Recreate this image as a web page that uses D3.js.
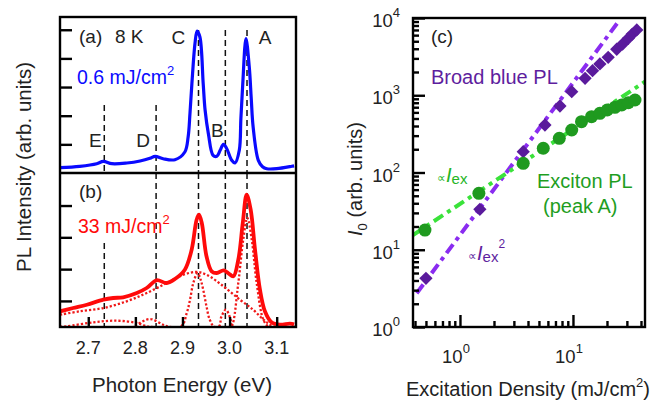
<!DOCTYPE html>
<html>
<head>
<meta charset="utf-8">
<script src="https://cdn.jsdelivr.net/npm/d3@7"></script>
<style>
  body { margin: 0; background: #fff; }
  svg { display: block; font-family: "Liberation Sans", Arial, sans-serif; }
</style>
</head>
<body>
<svg id="chart" width="668" height="403"></svg>
<script>
// ── data: PL spectra (photon energy eV, intensity arb. units) ──────────────────
const ENERGY_TICKS = [2.7, 2.8, 2.9, 3.0, 3.1];
const A_TICKS = [1, 2, 3, 4, 5];
const B_TICKS = [0.82, 1.82, 2.82, 3.82];

const PEAK_NAMES = ['E', 'D', 'C', 'B', 'A'];
const PEAK_EV    = [2.734, 2.844, 2.934, 2.991, 3.037];
const PEAK_TOP_A = [2.37, 2.37, 4.99, 4.99, 4.99];   // dashed line tops in (a)
const PEAK_TOP_B = [2.64, 4.84, 4.84, 4.84, 4.84];   // dashed line tops in (b)

// (a) 0.6 mJ/cm2
const SPEC_LOW = [
  [2.640, 0.185], [2.682, 0.234], [2.718, 0.325], [2.732, 0.408], [2.750, 0.325],
  [2.782, 0.349], [2.810, 0.419], [2.831, 0.513], [2.842, 0.583], [2.859, 0.499],
  [2.884, 0.464], [2.905, 0.733], [2.912, 1.257], [2.916, 2.10], [2.920, 3.117],
  [2.9265, 4.513], [2.931, 4.956], [2.937, 4.747], [2.944, 3.117], [2.948, 2.20],
  [2.955, 1.372], [2.965, 0.618], [2.973, 0.583], [2.980, 0.792], [2.987, 1.002],
  [2.994, 0.848], [3.0045, 0.443], [3.0115, 0.349], [3.0206, 0.792], [3.024, 1.90],
  [3.028, 3.117], [3.0348, 4.688], [3.0418, 3.70], [3.046, 2.60], [3.050, 1.606],
  [3.061, 0.443], [3.070, 0.22], [3.079, 0.150], [3.100, 0.150], [3.132, 0.234],
  [3.137, 0.25]
];

// (b) 33 mJ/cm2, total and fitted components
const SPEC_HIGH = [
  [2.640, 0.494], [2.668, 0.597], [2.697, 0.701], [2.732, 0.858], [2.753, 0.912],
  [2.774, 0.934], [2.803, 1.069], [2.824, 1.226], [2.845, 1.469], [2.8665, 1.384],
  [2.884, 1.509], [2.905, 1.802], [2.9195, 2.431], [2.930, 3.374], [2.935, 3.531],
  [2.941, 3.270], [2.951, 2.223], [2.962, 1.752], [2.973, 1.698], [2.987, 1.783],
  [2.997, 1.698], [3.008, 1.594], [3.0185, 2.116], [3.028, 3.270], [3.0363, 4.160],
  [3.0448, 3.689], [3.054, 2.431], [3.0645, 1.173], [3.075, 0.494], [3.089, 0.148],
  [3.107, 0.072], [3.128, 0.104], [3.137, 0.08]
];
const FIT_BROAD = [
  [2.640, 0.387], [2.682, 0.494], [2.732, 0.597], [2.7815, 0.808], [2.824, 1.069],
  [2.8665, 1.384], [2.902, 1.645], [2.930, 1.730], [2.951, 1.645], [2.987, 1.280],
  [3.022, 0.858], [3.050, 0.544], [3.072, 0.230], [3.093, 0.022], [3.141, 0.0]
];
const FIT_E = [
  [2.640, 0.0], [2.654, 0.02], [2.711, 0.148], [2.760, 0.198], [2.803, 0.126],
  [2.824, 0.02], [2.835, 0.0], [3.141, 0.0]
];
const FIT_D = [
  [2.640, 0.0], [2.795, 0.0], [2.803, 0.072], [2.831, 0.25], [2.859, 0.072],
  [2.873, 0.0], [3.141, 0.0]
];
const FIT_C = [
  [2.640, 0.0], [2.895, 0.0], [2.909, 0.44], [2.916, 0.858], [2.923, 1.384],
  [2.932, 1.698], [2.9386, 1.487], [2.944, 1.173], [2.951, 0.65], [2.958, 0.230],
  [2.969, 0.0], [3.141, 0.0]
];
const FIT_B = [
  [2.640, 0.0], [2.976, 0.0], [2.982, 0.3], [2.992, 0.544], [3.001, 0.3],
  [3.008, 0.0], [3.141, 0.0]
];
const FIT_A = [
  [2.640, 0.0], [3.0, 0.0], [3.0045, 0.02], [3.0185, 1.384], [3.029, 2.75],
  [3.0376, 3.43], [3.047, 2.75], [3.0575, 1.384], [3.0716, 0.230], [3.082, 0.02],
  [3.090, 0.0], [3.141, 0.0]
];

// (c) integrated intensity vs excitation density
const DENS_BROAD = [0.5, 1.5, 3.63, 5.65, 7.67, 9.75, 12.8, 14.9, 17.3, 20.5, 24.4, 27.5, 30.9, 33.5, 36.7];
const I_BROAD    = [4.27, 33.4, 186, 412, 726, 1112, 1657, 2080, 2540, 3100, 3940, 4600, 5460, 6200, 7000];
const DENS_EXC   = [0.49, 1.47, 3.63, 5.46, 7.57, 9.75, 11.9, 14.6, 17.3, 20.1, 23.5, 27.0, 30.9, 35.4];
const I_EXC      = [18.0, 53.8, 131.6, 206, 277, 355, 455, 528, 584, 644, 698, 748, 801, 868];
const FIT_SQ  = [[0.414, 2.73], [26, 9500]];   // ∝ Iex^2
const FIT_LIN = [[0.384, 15.5], [43.4, 1500]]; // ∝ Iex
const Y_DECADES = [0, 1, 2, 3, 4];
const X_DECADES = [0, 1];

// ── setup ──────────────────────────────────────────────────────────────────────
const svg = d3.select('#chart');
const INK = '#222';
const AXW = 2.4;

const xE = d3.scaleLinear().domain([2.640, 3.141]).range([60, 296]);
const yA = d3.scaleLinear().domain([0, 5.445]).range([173, 17]);
const yB = d3.scaleLinear().domain([0, 4.843]).range([327, 173]);

const xC = d3.scaleLog().domain([0.384, 43.4]).range([413, 645]);
const yC = d3.scaleLog().domain([1, 10000]).range([327, 18]);

const defs = svg.append('defs');
function clip(id, x0, y0, x1, y1) {
  defs.append('clipPath').attr('id', id)
    .append('rect').attr('x', x0).attr('y', y0).attr('width', x1 - x0).attr('height', y1 - y0);
}
clip('clipA', 60, 17, 296, 173);
clip('clipB', 60, 173, 296, 327);
clip('clipC', 413, 18, 645, 327);

// ── panels (a) & (b) ──────────────────────────────────────────────────────────
function specLine(y) {
  return d3.line().x(d => xE(d[0])).y(d => y(d[1])).curve(d3.curveCatmullRom.alpha(0.5));
}

const gA = svg.append('g').attr('clip-path', 'url(#clipA)');
const gB = svg.append('g').attr('clip-path', 'url(#clipB)');

// dashed peak markers
PEAK_EV.forEach((e, i) => {
  gA.append('line')
    .attr('x1', xE(e)).attr('x2', xE(e))
    .attr('y1', yA(PEAK_TOP_A[i])).attr('y2', yA(0))
    .attr('stroke', '#111').attr('stroke-width', 1.5).attr('stroke-dasharray', '6 4');
  gB.append('line')
    .attr('x1', xE(e)).attr('x2', xE(e))
    .attr('y1', yB(PEAK_TOP_B[i])).attr('y2', yB(0))
    .attr('stroke', '#111').attr('stroke-width', 1.5).attr('stroke-dasharray', '6 4');
});

// fitted components (dotted)
[FIT_BROAD, FIT_E, FIT_D, FIT_C, FIT_B, FIT_A].forEach(comp => {
  gB.append('path')
    .attr('d', specLine(yB)(comp))
    .attr('fill', 'none')
    .attr('stroke', '#f01818')
    .attr('stroke-width', 2.3)
    .attr('stroke-dasharray', '2.2 2');
});

gA.append('path')
  .attr('d', specLine(yA)(SPEC_LOW))
  .attr('fill', 'none').attr('stroke', '#0a0aff').attr('stroke-width', 3.2)
  .attr('stroke-linejoin', 'round');

gB.append('path')
  .attr('d', specLine(yB)(SPEC_HIGH))
  .attr('fill', 'none').attr('stroke', '#ff0a0a').attr('stroke-width', 3.8)
  .attr('stroke-linejoin', 'round');

// axes (inward ticks)
function styleAxis(g) {
  g.select('.domain').remove();
  g.selectAll('.tick line').attr('stroke', '#000').attr('stroke-width', AXW);
}
svg.append('g').attr('transform', 'translate(60,0)')
  .call(d3.axisLeft(yA).tickValues(A_TICKS).tickSize(-12).tickFormat(''))
  .call(styleAxis);
svg.append('g').attr('transform', 'translate(60,0)')
  .call(d3.axisLeft(yB).tickValues(B_TICKS).tickSize(-12).tickFormat(''))
  .call(styleAxis);
svg.append('g').attr('transform', 'translate(0,327)')
  .call(d3.axisBottom(xE).tickValues(ENERGY_TICKS).tickSize(-10).tickFormat(''))
  .call(styleAxis);

svg.append('rect').attr('x', 60).attr('y', 17).attr('width', 236).attr('height', 310)
  .attr('fill', 'none').attr('stroke', '#000').attr('stroke-width', AXW);
svg.append('line').attr('x1', 60).attr('x2', 296).attr('y1', 173).attr('y2', 173)
  .attr('stroke', '#000').attr('stroke-width', AXW);

// tick labels
svg.append('g').selectAll('text').data(ENERGY_TICKS).join('text')
  .attr('x', d => xE(d)).attr('y', 354)
  .attr('text-anchor', 'middle').attr('font-size', 18).attr('fill', INK)
  .text(d => d3.format('.1f')(d));

svg.append('text').attr('x', 182).attr('y', 392)
  .attr('text-anchor', 'middle').attr('font-size', 20.5).attr('fill', INK)
  .text('Photon Energy (eV)');
svg.append('text').attr('transform', 'translate(31,167) rotate(-90)')
  .attr('text-anchor', 'middle').attr('font-size', 20.5).attr('fill', INK)
  .text('PL Intensity (arb. units)');

// panel annotations
function label(x, y, txt, size, color, anchor) {
  return svg.append('text').attr('x', x).attr('y', y)
    .attr('font-size', size).attr('fill', color || INK)
    .attr('text-anchor', anchor || 'start').text(txt);
}
label(79, 43, '(a)', 19);
label(115, 43, '8 K', 19);
label(79, 198, '(b)', 19);

const PEAK_LABEL_DX = [-9, -13, -20, -8, 18];
const PEAK_LABEL_Y  = [147, 147, 44, 137, 44];
PEAK_NAMES.forEach((n, i) => {
  label(xE(PEAK_EV[i]) + PEAK_LABEL_DX[i], PEAK_LABEL_Y[i], n, 19, INK, 'middle');
});

function fluence(x, y, txt, color) {
  const t = label(x, y, txt, 19.5, color);
  t.append('tspan').attr('font-size', 13).attr('dy', -9).text('2');
}
fluence(77, 84, '0.6 mJ/cm', '#0a0aff');
fluence(78, 233, '33 mJ/cm', '#ff0a0a');

// ── panel (c) ─────────────────────────────────────────────────────────────────
const gC = svg.append('g').attr('clip-path', 'url(#clipC)');
const fitLine = d3.line().x(d => xC(d[0])).y(d => yC(d[1]));

gC.append('path').attr('d', fitLine(FIT_SQ))
  .attr('fill', 'none').attr('stroke', '#8a2cf0').attr('stroke-width', 4)
  .attr('stroke-dasharray', '11 5 4 5');
gC.append('path').attr('d', fitLine(FIT_LIN))
  .attr('fill', 'none').attr('stroke', '#3ae23a').attr('stroke-width', 4)
  .attr('stroke-dasharray', '11 5 4 5');

gC.append('g').selectAll('path').data(DENS_BROAD).join('path')
  .attr('d', d3.symbol(d3.symbolSquare, 88))
  .attr('transform', (d, i) => `translate(${xC(d)},${yC(I_BROAD[i])}) rotate(45)`)
  .attr('fill', '#5a1a9c');

gC.append('g').selectAll('circle').data(DENS_EXC).join('circle')
  .attr('cx', d => xC(d)).attr('cy', (d, i) => yC(I_EXC[i]))
  .attr('r', 6.5).attr('fill', '#1f9a1f');

// log ticks
const yMinor = yC.ticks().filter(v => !Y_DECADES.some(p => Math.abs(v - Math.pow(10, p)) < 1e-9));
const xMinor = xC.ticks().filter(v => !X_DECADES.some(p => Math.abs(v - Math.pow(10, p)) < 1e-9));

svg.append('g').attr('transform', 'translate(413,0)')
  .call(d3.axisLeft(yC).tickValues(Y_DECADES.map(p => Math.pow(10, p))).tickSize(-12).tickFormat(''))
  .call(styleAxis);
svg.append('g').attr('transform', 'translate(413,0)')
  .call(d3.axisLeft(yC).tickValues(yMinor).tickSize(-6).tickFormat(''))
  .call(styleAxis);
svg.append('g').attr('transform', 'translate(0,327)')
  .call(d3.axisBottom(xC).tickValues(X_DECADES.map(p => Math.pow(10, p))).tickSize(-12).tickFormat(''))
  .call(styleAxis);
svg.append('g').attr('transform', 'translate(0,327)')
  .call(d3.axisBottom(xC).tickValues(xMinor).tickSize(-6).tickFormat(''))
  .call(styleAxis);

svg.append('rect').attr('x', 413).attr('y', 18).attr('width', 232).attr('height', 309)
  .attr('fill', 'none').attr('stroke', '#000').attr('stroke-width', AXW);

// decade labels
Y_DECADES.forEach(p => {
  const t = svg.append('text').attr('x', 400).attr('y', yC(Math.pow(10, p)) + 9)
    .attr('text-anchor', 'end').attr('font-size', 18.5).attr('fill', INK).text('10');
  t.append('tspan').attr('font-size', 13).attr('dy', -10).text(p);
});
X_DECADES.forEach(p => {
  const t = svg.append('text').attr('x', xC(Math.pow(10, p)) - 4).attr('y', 363)
    .attr('text-anchor', 'middle').attr('font-size', 18.5).attr('fill', INK).text('10');
  t.append('tspan').attr('font-size', 13).attr('dy', -10).text(p);
});

// axis titles
const xt = svg.append('text').attr('x', 528).attr('y', 396)
  .attr('text-anchor', 'middle').attr('font-size', 20).attr('fill', INK)
  .text('Excitation Density (mJ/cm');
xt.append('tspan').attr('font-size', 13).attr('dy', -9).text('2');
xt.append('tspan').attr('dy', 9).text(')');

const yt = svg.append('text').attr('transform', 'translate(362,179) rotate(-90)')
  .attr('text-anchor', 'middle').attr('font-size', 20).attr('fill', INK);
yt.append('tspan').attr('font-style', 'italic').text('I');
yt.append('tspan').attr('font-size', 13).attr('dy', 5).text('0');
yt.append('tspan').attr('dy', -5).text(' (arb. units)');

// annotations
label(431, 43, '(c)', 19);
label(431, 84, 'Broad blue PL', 20, '#5e1e9e');
label(537, 188, 'Exciton PL', 20, '#1f9e1f');
label(543, 213, '(peak A)', 20, '#1f9e1f');

const pLin = svg.append('text').attr('x', 437).attr('y', 182).attr('fill', '#25b525');
pLin.append('tspan').attr('font-size', 12).text('∝');
pLin.append('tspan').attr('font-size', 20).attr('font-style', 'italic').text('I');
pLin.append('tspan').attr('font-size', 15).attr('dy', 2).text('ex');

const pSq = svg.append('text').attr('x', 468).attr('y', 260).attr('fill', '#5e1e9e');
pSq.append('tspan').attr('font-size', 12).text('∝');
pSq.append('tspan').attr('font-size', 20).attr('font-style', 'italic').text('I');
pSq.append('tspan').attr('font-size', 15).attr('dy', 2).text('ex');
pSq.append('tspan').attr('font-size', 12).attr('dy', -14).text('2');
</script>
</body>
</html>
